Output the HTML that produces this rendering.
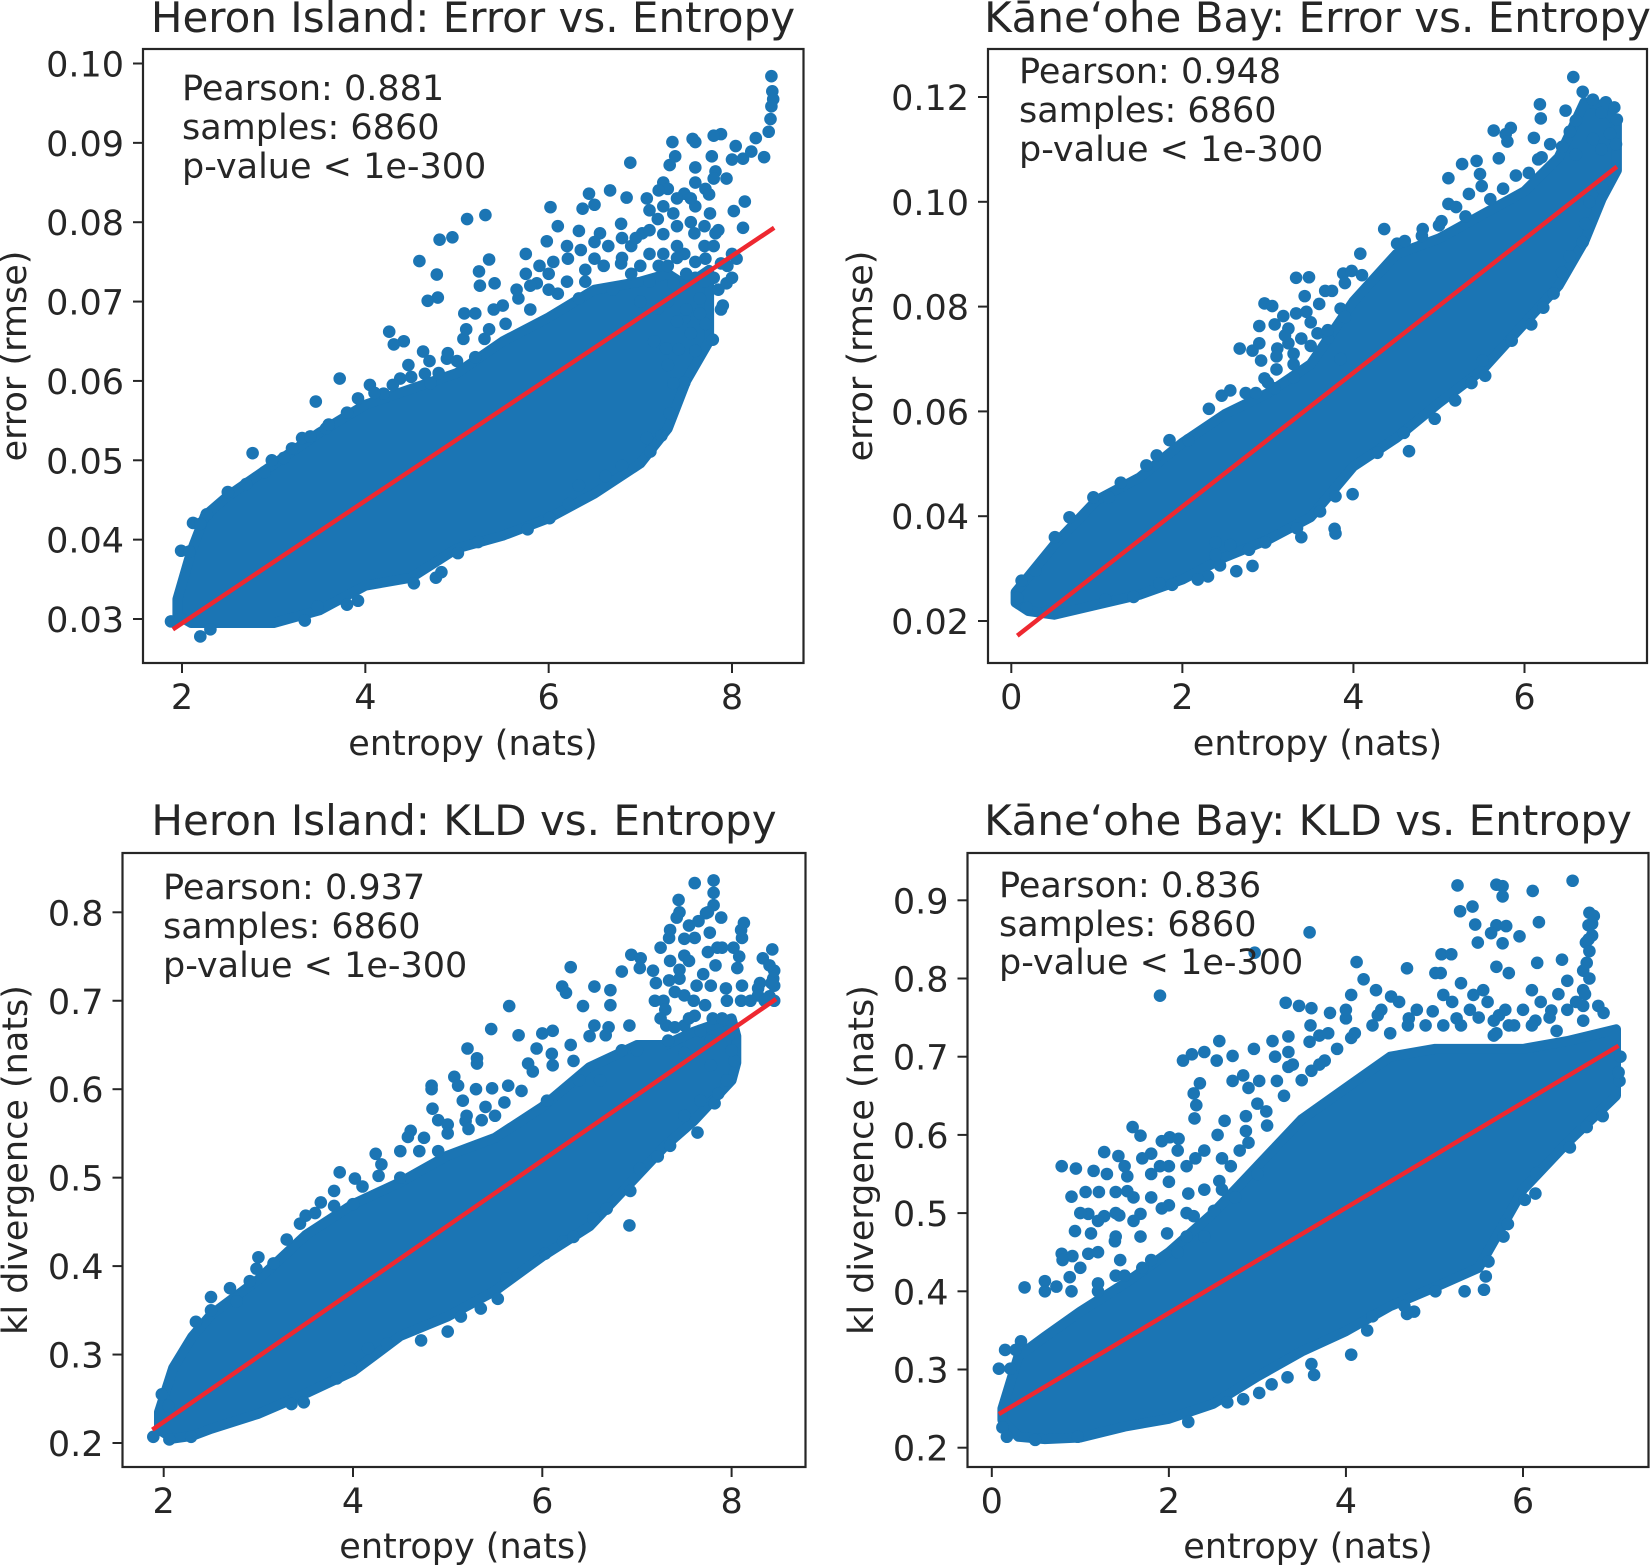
<!DOCTYPE html>
<html lang="en">
<head>
<meta charset="utf-8">
<title>Error and KLD vs. Entropy</title>
<style>
html,body{margin:0;padding:0;background:#fff;}
svg{display:block;}
text{font-family:"DejaVu Sans","Liberation Sans",sans-serif;fill:#262626;}
.lab{font-size:35px;}
.ttl{font-size:42px;}
.frame{fill:none;stroke:#262626;stroke-width:2.2;}
</style>
</head>
<body>
<svg xmlns="http://www.w3.org/2000/svg" width="1651" height="1566" viewBox="0 0 1651 1566">
<rect width="1651" height="1566" fill="#fff"/>

<g>
<g id="marks-he"></g>
<rect class="frame" x="143" y="49" width="660.5" height="614"/>
<g id="ticks-he"></g>
<text class="ttl" x="473" y="32" text-anchor="middle">Heron Island: Error vs. Entropy</text>
<text class="lab" x="473" y="755" text-anchor="middle">entropy (nats)</text>
<text class="lab" transform="translate(26,356) rotate(-90)" text-anchor="middle">error (rmse)</text>
<g>
<text class="lab" x="182" y="100">Pearson: 0.881</text>
<text class="lab" x="182" y="139">samples: 6860</text>
<text class="lab" x="182" y="178">p-value &lt; 1e-300</text>
</g>
</g>

<g>
<g id="marks-ke"></g>
<rect class="frame" x="988" y="49" width="659" height="614"/>
<g id="ticks-ke"></g>
<text class="ttl" x="1317.5" y="32" text-anchor="middle">Kāne‘ohe Bay: Error vs. Entropy</text>
<text class="lab" x="1317.5" y="755" text-anchor="middle">entropy (nats)</text>
<text class="lab" transform="translate(872,356) rotate(-90)" text-anchor="middle">error (rmse)</text>
<g>
<text class="lab" x="1019" y="83">Pearson: 0.948</text>
<text class="lab" x="1019" y="122">samples: 6860</text>
<text class="lab" x="1019" y="161">p-value &lt; 1e-300</text>
</g>
</g>

<g>
<g id="marks-hk"></g>
<rect class="frame" x="122.5" y="853" width="683" height="614"/>
<g id="ticks-hk"></g>
<text class="ttl" x="464" y="835" text-anchor="middle">Heron Island: KLD vs. Entropy</text>
<text class="lab" x="464" y="1558" text-anchor="middle">entropy (nats)</text>
<text class="lab" transform="translate(27,1160) rotate(-90)" text-anchor="middle">kl divergence (nats)</text>
<g>
<text class="lab" x="163" y="899">Pearson: 0.937</text>
<text class="lab" x="163" y="938">samples: 6860</text>
<text class="lab" x="163" y="977">p-value &lt; 1e-300</text>
</g>
</g>

<g>
<g id="marks-kk"></g>
<rect class="frame" x="967.5" y="853" width="681" height="614"/>
<g id="ticks-kk"></g>
<text class="ttl" x="1308" y="835" text-anchor="middle">Kāne‘ohe Bay: KLD vs. Entropy</text>
<text class="lab" x="1308" y="1558" text-anchor="middle">entropy (nats)</text>
<text class="lab" transform="translate(873,1160) rotate(-90)" text-anchor="middle">kl divergence (nats)</text>
<g>
<text class="lab" x="999" y="897">Pearson: 0.836</text>
<text class="lab" x="999" y="936">samples: 6860</text>
<text class="lab" x="999" y="974">p-value &lt; 1e-300</text>
</g>
</g>
</svg>

<script>
// Values are estimated by eye from the picture. The dense middle of each cloud is
// summarised by Core arrays (entropy, upper and lower bound) and drawn as one filled
// shape; the Points arrays hold individually estimated samples, not the full 6860.

// ---- Heron Island: Error vs. Entropy ----
const heronErrorXTicks = ["2","4","6","8"];
const heronErrorYTicks = ["0.03","0.04","0.05","0.06","0.07","0.08","0.09","0.10"];
const heronErrorFitX = [1.90,8.46];
const heronErrorFitY = [0.0287,0.0793];
const heronErrorCoreX = [1.95,2.1,2.25,2.5,3,3.5,4,4.5,5,5.5,6,6.5,7,7.3,7.5,7.75];
const heronErrorCoreUpper = [.0325,.0385,.0430,.0455,.0495,.0535,.0570,.0590,.0610,.0650,.0680,.0715,.0725,.0735,.0720,.0740];
const heronErrorCoreLower = [.0305,.0295,.0295,.0295,.0295,.0311,.0342,.0352,.0389,.0405,.0427,.0458,.0496,.0540,.0600,.0650];
const heronErrorPoints = [[8.43,.0984],[8.44,.0965],[8.45,.0955],[8.43,.0946],[8.42,.0930],[8.40,.0914],[7.88,.0911],[7.80,.0909],[7.57,.0905],[7.60,.0901],[7.35,.0901],[8.04,.0896],[8.26,.0906],[8.35,.0882],[8.12,.0880],[8.00,.0879],[8.21,.0889],[7.32,.0872],[7.38,.0883],[6.89,.0875],[7.60,.0869],[7.78,.0883],[7.82,.0864],[7.94,.0855],[7.25,.0850],[6.85,.0831],[6.67,.0840],[6.44,.0836],[6.02,.0819],[6.37,.0817],[6.50,.0822],[8.14,.0826],[8.02,.0814],[8.12,.0793],[5.31,.0809],[5.11,.0804],[4.95,.0781],[4.81,.0778],[4.59,.0751],[5.35,.0753],[4.78,.0734],[5.24,.0738],[5.25,.0720],[5.41,.0723],[4.79,.0705],[4.68,.0701],[5.08,.0685],[4.26,.0662],[4.42,.0650],[4.31,.0646],[4.63,.0637],[4.47,.0620],[4.65,.0609],[3.72,.0603],[4.05,.0595],[3.46,.0574],[2.77,.0509],[2.98,.0500],[2.27,.0432],[2.12,.0421],[2.20,.0420],[1.99,.0386],[2.08,.0385],[1.88,.0297],[1.98,.0300],[2.20,.0278],[2.31,.0287],[3.34,.0298],[3.48,.0316],[3.92,.0323],[3.80,.0318],[4.53,.0345],[4.77,.0352],[4.83,.0359],[5.01,.0383],[5.23,.0397],[5.77,.0413],[6.01,.0427],[6.22,.0445],[6.33,.0468],[6.62,.0480],[6.80,.0493],[7.11,.0511],[7.23,.0531],[7.32,.0559],[7.48,.0598],[7.60,.0638],[7.79,.0652],[7.88,.0690],[5.75,.0760],[5.98,.0776],[6.10,.0795],[6.33,.0789],[6.56,.0786],[6.79,.0798],[7.02,.0786],[7.19,.0804],[7.07,.0830],[7.30,.0842],[7.48,.0836],[7.71,.0842],[7.76,.0811],[7.36,.0811],[7.59,.0786],[7.82,.0786],[7.48,.0760],[7.71,.0754],[7.25,.0760],[6.79,.0748],[6.50,.0754],[6.21,.0754],[5.87,.0723],[6.10,.0710],[6.33,.0704],[5.67,.0704],[5.53,.0672],[5.30,.0653],[5.07,.0653],[7.36,.0723],[7.65,.0704],[7.48,.0679],[7.71,.0672],[7.28,.0641],[7.94,.0723],[8.05,.0754],[7.88,.0748],[7.19,.0691],[4.89,.0628],[4.71,.0597],[4.38,.0603],[4.20,.0584],[3.92,.0578],[3.57,.0540],[3.31,.0528],[3.11,.0503],[7.36,.0597],[7.07,.0528],[7.00,.0700],[7.15,.0650],[7.30,.0620],[7.42,.0640],[7.55,.0660],[6.00,.0735],[6.40,.0725],[6.70,.0715],[5.80,.0690],[4.80,.0610],[5.00,.0625],[5.20,.0630],[7.10,.0760],[6.90,.0770],[7.60,.0730],[7.80,.0730],[8.00,.0760],[7.60,.0820],[7.40,.0770],[7.70,.0770],[5.75,.0735],[5.9,.0745],[6.05,.0750],[6.2,.0770],[6.35,.0765],[6.5,.0775],[6.65,.0770],[6.8,.0780],[6.95,.0780],[7.1,.0790],[7.25,.0785],[7.4,.0795],[7.55,.0800],[7.7,.0795],[7.85,.0790],[5.8,.0720],[6.0,.0715],[6.2,.0725],[6.4,.0740],[6.6,.0745],[6.8,.0755],[7.0,.0745],[7.2,.0745],[7.4,.0755],[7.6,.0750],[7.8,.0770],[7.95,.0745],[7.1,.0815],[7.25,.0820],[7.4,.0830],[7.55,.0830],[7.75,.0835],[7.2,.0840],[7.6,.0850],[7.8,.0855],[6.9,.0735],[7.1,.0725],[7.3,.0745],[7.5,.0735],[7.7,.0725],[7.85,.0715],[8.0,.0730],[7.9,.0695],[7.5,.0690],[7.65,.0685],[7.4,.0675],[7.3,.0700],[4.9,.0635],[5.1,.0665],[5.2,.0685],[5.35,.0665],[5.5,.0695],[5.65,.0715],[5.4,.0690],[4.5,.0605],[4.7,.0625],[4.3,.0595],[4.1,.0585],[3.8,.0560],[3.6,.0545],[3.4,.0530],[3.2,.0515],[2.9,.0485],[2.7,.0470],[2.5,.0460]];

// ---- Kane'ohe Bay: Error vs. Entropy ----
const kaneoheErrorXTicks = ["0","2","4","6"];
const kaneoheErrorYTicks = ["0.02","0.04","0.06","0.08","0.10","0.12"];
const kaneoheErrorFitX = [0.07,7.08];
const kaneoheErrorFitY = [0.0172,0.1067];
const kaneoheErrorCoreX = [0.05,0.2,0.5,1,1.5,2,2.5,3,3.5,4,4.5,5,5.5,6,6.4,6.7,6.9,7.08];
const kaneoheErrorCoreUpper = [.0255,.0285,.0345,.0431,.0474,.0540,.0595,.0635,.0690,.0810,.0900,.0930,.0975,.1020,.1085,.1190,.1185,.1150];
const kaneoheErrorCoreLower = [.0235,.0219,.0212,.0231,.0250,.0279,.0322,.0355,.0398,.0495,.0549,.0616,.0678,.0768,.0840,.0925,.1005,.1060];
const kaneoheErrorPoints = [[6.57,.1238],[6.18,.1186],[6.19,.1159],[6.68,.1210],[6.48,.1174],[5.64,.1136],[5.84,.1141],[5.78,.1129],[5.80,.1115],[6.11,.1122],[7.08,.1157],[7.07,.1110],[6.53,.1134],[6.44,.1105],[5.27,.1072],[5.44,.1078],[5.70,.1083],[6.16,.1081],[5.11,.1045],[5.48,.1053],[5.11,.0996],[5.31,.0972],[5.03,.0963],[4.36,.0948],[4.81,.0948],[4.51,.0920],[4.08,.0901],[6.76,.1000],[6.91,.1026],[6.71,.0958],[6.68,.0923],[6.53,.0896],[6.44,.0865],[6.34,.0825],[6.22,.0798],[6.08,.0766],[5.85,.0735],[5.51,.0697],[5.54,.0668],[5.38,.0654],[5.19,.0621],[4.95,.0586],[4.65,.0524],[4.59,.0559],[4.28,.0521],[3.99,.0442],[3.79,.0438],[3.78,.0376],[3.79,.0367],[3.39,.0360],[3.34,.0377],[3.61,.0409],[2.97,.0350],[2.82,.0305],[2.63,.0295],[2.44,.0306],[2.30,.0285],[2.18,.0279],[1.88,.0269],[1.73,.0272],[1.43,.0246],[1.10,.0241],[2.39,.0350],[2.39,.0326],[2.78,.0336],[2.56,.0345],[0.07,.0244],[0.12,.0277],[0.28,.0296],[0.18,.0225],[0.42,.0217],[3.33,.0855],[3.48,.0856],[2.96,.0806],[3.05,.0801],[2.90,.0763],[3.08,.0766],[3.18,.0782],[3.33,.0787],[3.24,.0758],[3.43,.0820],[2.67,.0720],[2.82,.0716],[2.90,.0730],[2.92,.0697],[3.11,.0720],[3.24,.0730],[3.39,.0739],[3.58,.0749],[2.96,.0663],[3.08,.0644],[2.31,.0605],[2.46,.0630],[2.56,.0640],[2.74,.0635],[2.86,.0635],[1.70,.0516],[1.85,.0545],[2.07,.0545],[1.28,.0464],[1.58,.0497],[0.96,.0436],[1.14,.0436],[0.51,.0360],[0.68,.0398],[3.67,.0830],[3.88,.0863],[3.85,.0796],[3.98,.0868],[3.50,.0770],[3.70,.0740],[3.85,.0700],[3.30,.0690],[3.10,.0680],[6.90,.1170],[7.00,.1130],[6.80,.1120],[6.60,.1090],[6.90,.1100],[3.1,.0705],[3.3,.0710],[3.5,.0725],[3.7,.0755],[3.2,.0745],[3.45,.0790],[3.6,.0805],[3.75,.0830],[3.9,.0845],[4.1,.0860],[3.9,.0780],[3.3,.0665],[3.0,.0655],[5.2,.0990],[5.35,.1015],[5.5,.1030],[5.6,.1005],[5.75,.1025],[5.9,.1050],[6.05,.1055],[6.2,.1085],[6.3,.1110],[6.6,.1155],[6.8,.1195],[6.95,.1190],[7.05,.1180],[4.6,.0925],[4.8,.0935],[5.0,.0955]];

// ---- Heron Island: KLD vs. Entropy ----
const heronKldXTicks = ["2","4","6","8"];
const heronKldYTicks = ["0.2","0.3","0.4","0.5","0.6","0.7","0.8"];
const heronKldFitX = [1.88,8.47];
const heronKldFitY = [0.215,0.702];
const heronKldCoreX = [1.95,2.1,2.3,2.5,3,3.5,4,4.5,5,5.5,6,6.5,7,7.3,7.6,8,8.05];
const heronKldCoreUpper = [.235,.285,.320,.345,.385,.435,.470,.495,.525,.545,.580,.625,.650,.650,.665,.680,.660];
const heronKldCoreLower = [.215,.205,.208,.216,.233,.256,.281,.321,.343,.372,.411,.445,.502,.536,.564,.610,.630];
const heronKldPoints = [[7.81,.836],[7.61,.833],[7.81,.822],[7.44,.814],[7.81,.808],[7.73,.799],[7.89,.794],[8.13,.788],[8.11,.771],[7.42,.794],[7.55,.785],[7.77,.777],[7.34,.771],[7.61,.771],[8.02,.760],[8.43,.758],[8.33,.748],[8.45,.734],[7.25,.760],[7.50,.751],[6.94,.752],[7.04,.748],[7.03,.737],[6.30,.738],[6.84,.733],[6.21,.716],[6.25,.709],[6.55,.716],[6.72,.712],[6.72,.695],[6.43,.694],[5.65,.694],[5.46,.668],[5.75,.661],[6.55,.672],[6.92,.672],[6.11,.666],[6.00,.663],[5.94,.646],[5.85,.629],[5.21,.646],[5.31,.635],[5.31,.629],[5.07,.614],[5.11,.604],[4.83,.604],[4.83,.600],[5.30,.600],[5.47,.601],[5.64,.604],[5.16,.587],[5.36,.565],[5.19,.564],[5.22,.555],[4.84,.578],[4.90,.565],[5.00,.560],[4.61,.553],[4.58,.546],[4.75,.545],[4.24,.527],[4.50,.530],[3.86,.506],[4.02,.499],[4.27,.502],[3.66,.472],[3.80,.468],[3.44,.448],[3.50,.457],[2.98,.397],[3.16,.403],[2.91,.383],[2.77,.360],[2.50,.350],[2.34,.337],[1.98,.255],[2.05,.242],[1.89,.207],[2.06,.204],[2.29,.207],[3.48,.246],[3.35,.244],[3.97,.284],[3.83,.273],[4.36,.312],[4.16,.307],[4.72,.316],[5.00,.326],[5.14,.343],[5.35,.352],[5.53,.363],[5.62,.386],[6.03,.414],[6.22,.428],[6.33,.433],[6.54,.454],[6.68,.465],[6.92,.446],[6.93,.485],[7.03,.510],[7.22,.524],[7.35,.536],[7.64,.551],[7.50,.570],[7.67,.587],[7.82,.584],[7.86,.595],[7.95,.610],[8.03,.632],[7.31,.672],[7.33,.655],[7.50,.672],[7.61,.683],[7.28,.700],[7.19,.700],[7.50,.706],[7.72,.695],[7.78,.717],[7.94,.714],[8.11,.717],[8.28,.714],[8.45,.717],[8.28,.706],[7.83,.740],[7.17,.734],[7.34,.723],[7.63,.717],[8.06,.737],[7.67,.666],[7.78,.655],[7.97,.661],[8.00,.644],[7.78,.627],[7.50,.641],[6.67,.661],[6.84,.644],[6.33,.632],[6.11,.627],[6.39,.610],[6.61,.610],[5.78,.598],[6.05,.587],[7.00,.644],[8.44,.725],[8.40,.705],[7.35,.745],[7.45,.725],[4.00,.470],[4.50,.500],[4.90,.530],[5.50,.570],[7.3,.690],[7.4,.710],[7.45,.735],[7.55,.745],[7.6,.700],[7.7,.730],[7.75,.755],[7.85,.760],[7.65,.790],[7.75,.800],[7.9,.760],[7.95,.700],[8.1,.700],[8.2,.700],[8.3,.720],[8.4,.740],[8.42,.720],[8.45,.700],[8.35,.700],[8.1,.780],[8.08,.750],[7.35,.780],[7.45,.800],[7.5,.770],[7.2,.720],[7.25,.680],[7.4,.670],[7.55,.680],[7.8,.680],[7.9,.680],[6.5,.660],[6.7,.670],[6.3,.650],[6.1,.640],[5.9,.620],[5.6,.585],[5.4,.580],[5.2,.570],[5.0,.550],[4.7,.530],[4.3,.515],[4.1,.490],[3.8,.485],[3.6,.460],[3.3,.430],[3.0,.410],[2.7,.375],[2.5,.365]];

// ---- Kane'ohe Bay: KLD vs. Entropy ----
const kaneoheKldXTicks = ["0","2","4","6"];
const kaneoheKldYTicks = ["0.2","0.3","0.4","0.5","0.6","0.7","0.8","0.9"];
const kaneoheKldFitX = [0.08,7.08];
const kaneoheKldFitY = [0.243,0.714];
const kaneoheKldCoreX = [0.12,0.3,0.6,1,1.5,2,2.5,3,3.5,4,4.5,5,5.5,5.8,6,6.5,7.05];
const kaneoheKldCoreUpper = [.250,.317,.342,.374,.410,.450,.500,.560,.620,.660,.700,.710,.710,.710,.710,.720,.735];
const kaneoheKldCoreLower = [.235,.214,.211,.213,.227,.237,.256,.291,.323,.349,.381,.405,.430,.490,.530,.590,.650];
const kaneoheKldPoints = [[6.56,.925],[5.26,.919],[5.70,.920],[5.77,.918],[5.77,.905],[6.11,.912],[5.29,.886],[5.43,.892],[6.18,.872],[5.46,.869],[5.70,.868],[5.81,.867],[5.64,.858],[3.59,.859],[5.96,.854],[5.49,.846],[5.77,.845],[6.75,.884],[6.74,.868],[6.71,.846],[2.97,.833],[5.08,.831],[5.19,.831],[4.12,.821],[4.69,.813],[6.44,.824],[6.16,.820],[5.70,.815],[5.84,.807],[5.07,.807],[5.01,.807],[4.20,.799],[5.30,.794],[6.50,.797],[4.34,.785],[4.51,.777],[1.90,.778],[5.10,.779],[4.06,.779],[5.44,.779],[5.55,.785],[6.10,.785],[3.32,.769],[3.47,.765],[3.61,.762],[3.82,.756],[4.00,.749],[4.36,.753],[4.71,.749],[4.98,.758],[5.25,.749],[5.73,.753],[6.32,.759],[6.85,.765],[6.91,.756],[3.59,.719],[2.57,.720],[3.17,.720],[3.35,.726],[3.70,.727],[4.06,.724],[2.16,.695],[2.26,.703],[2.40,.706],[2.54,.695],[2.72,.701],[2.96,.710],[3.35,.706],[3.35,.687],[2.72,.669],[2.35,.666],[2.28,.653],[2.31,.638],[2.29,.621],[2.84,.676],[3.02,.669],[3.22,.669],[3.61,.682],[3.76,.695],[1.59,.610],[1.68,.599],[1.92,.592],[2.01,.597],[2.11,.595],[0.79,.560],[0.95,.557],[1.27,.578],[1.43,.573],[1.15,.554],[1.53,.547],[1.80,.576],[0.90,.521],[1.06,.527],[1.21,.527],[1.40,.527],[1.53,.528],[1.09,.499],[1.27,.496],[1.44,.497],[1.68,.499],[1.92,.506],[2.22,.525],[0.94,.477],[1.12,.474],[0.79,.448],[0.91,.445],[1.09,.448],[1.39,.464],[1.68,.470],[1.98,.474],[2.28,.496],[2.57,.541],[2.51,.503],[2.87,.605],[2.63,.618],[2.87,.624],[3.11,.612],[0.37,.405],[0.60,.413],[0.88,.418],[0.73,.406],[0.08,.301],[0.15,.325],[0.33,.336],[0.27,.325],[0.21,.301],[0.12,.226],[0.17,.214],[0.49,.210],[0.97,.214],[2.22,.233],[2.66,.258],[2.84,.262],[3.02,.270],[3.16,.281],[3.34,.290],[3.64,.293],[3.61,.307],[4.06,.319],[4.24,.350],[4.30,.368],[4.69,.371],[4.77,.374],[5.01,.400],[5.34,.400],[5.56,.402],[5.58,.419],[5.61,.438],[5.78,.470],[5.83,.486],[6.14,.525],[6.02,.517],[6.15,.551],[6.53,.584],[6.72,.610],[6.90,.624],[7.09,.669],[4.66,.381],[6.68,.785],[6.68,.765],[6.68,.746],[6.68,.810],[5.67,.746],[5.67,.727],[5.84,.740],[6.14,.746],[6.38,.733],[7.10,.700],[7.08,.680],[6.75,.835],[6.78,.855],[1.40,.420],[1.70,.430],[2.00,.560],[2.30,.570],[2.55,.600],[2.70,.560],[3.00,.550],[1.20,.400],[1.45,.440],[2.10,.450],[2.40,.470],[2.75,.520],[0.8,.440],[1.0,.430],[1.2,.450],[1.4,.470],[1.6,.490],[1.8,.520],[2.0,.540],[2.2,.560],[2.4,.580],[1.0,.500],[1.2,.490],[1.4,.500],[1.6,.520],[1.8,.550],[2.0,.510],[2.2,.500],[2.4,.530],[2.6,.570],[2.8,.580],[1.3,.550],[1.5,.560],[1.7,.570],[1.9,.560],[2.1,.580],[0.6,.400],[0.9,.400],[1.2,.410],[1.5,.420],[1.8,.440],[2.2,.470],[2.6,.530],[2.9,.590],[3.1,.630],[3.3,.650],[3.5,.670],[3.7,.690],[3.9,.710],[4.1,.730],[4.3,.740],[4.5,.730],[4.7,.740],[4.9,.740],[5.1,.740],[5.3,.740],[5.5,.750],[5.7,.730],[5.9,.740],[6.1,.740],[6.3,.750],[6.5,.760],[6.7,.780],[6.75,.800],[6.72,.820],[6.78,.870],[6.8,.880],[6.74,.850],[2.9,.660],[3.0,.640],[3.2,.700],[3.4,.690],[3.6,.740],[3.8,.730],[4.0,.760],[4.4,.760],[4.6,.770],[4.8,.760],[5.2,.770],[5.4,.760],[5.6,.770],[5.8,.760],[6.0,.760],[6.2,.770],[6.4,.780],[6.6,.770]];

const SVG_NS = 'http://www.w3.org/2000/svg';
const INK = '#262626';
const BLUE = '#1b75b4';
const RED = '#ee2830';

// Axis functions: each maps a data value to a pixel via two calibrated ticks.
function linearAxis(d0, p0, d1, p1) {
  return function (v) { return p0 + (v - d0) * (p1 - p0) / (d1 - d0); };
}

function drawPanel(key, sx, sy, frame, xTicks, yTicks, coreX, coreUp, coreLo, points, fitX, fitY) {
  const marks = document.getElementById('marks-' + key);
  const ticks = document.getElementById('ticks-' + key);

  let d = '';
  coreX.forEach(function (x, i) { d += (i ? 'L' : 'M') + sx(x).toFixed(1) + ' ' + sy(coreUp[i]).toFixed(1); });
  for (let i = coreX.length - 1; i >= 0; i--) { d += 'L' + sx(coreX[i]).toFixed(1) + ' ' + sy(coreLo[i]).toFixed(1); }
  const core = document.createElementNS(SVG_NS, 'path');
  
  
  core.setAttribute('d', d + 'Z');
  core.setAttribute('fill', BLUE);
  core.setAttribute('stroke', BLUE);
  core.setAttribute('stroke-width', '10');
  core.setAttribute('stroke-linejoin', 'round');
  marks.appendChild(core);

  points.forEach(function (p) {
    const c = document.createElementNS(SVG_NS, 'circle');
    
    
    c.setAttribute('cx', sx(p[0]).toFixed(1));
    c.setAttribute('cy', sy(p[1]).toFixed(2));
    c.setAttribute('r', '6.3');
    c.setAttribute('fill', BLUE);
    marks.appendChild(c);
  });

  const fit = document.createElementNS(SVG_NS, 'line');
  
  
  fit.setAttribute('x1', sx(fitX[0]));
  fit.setAttribute('y1', sy(fitY[0]));
  fit.setAttribute('x2', sx(fitX[1]));
  fit.setAttribute('y2', sy(fitY[1]));
  fit.setAttribute('stroke', RED);
  fit.setAttribute('stroke-width', '4.5');
  marks.appendChild(fit);

  xTicks.forEach(function (label) {
    const x = sx(parseFloat(label));
    const mark = document.createElementNS(SVG_NS, 'line');
    
    
    mark.setAttribute('x1', x);
    mark.setAttribute('x2', x);
    mark.setAttribute('y1', frame.bottom);
    mark.setAttribute('y2', frame.bottom + 10);
    mark.setAttribute('stroke', INK);
    mark.setAttribute('stroke-width', '2');
    ticks.appendChild(mark);
    const t = document.createElementNS(SVG_NS, 'text');
    
    
    t.setAttribute('class', 'lab');
    t.setAttribute('x', x);
    t.setAttribute('y', frame.bottom + 46);
    t.setAttribute('text-anchor', 'middle');
    t.textContent = label;
    ticks.appendChild(t);
  });

  yTicks.forEach(function (label) {
    const y = sy(parseFloat(label));
    const mark = document.createElementNS(SVG_NS, 'line');
    
    
    mark.setAttribute('x1', frame.left - 10);
    mark.setAttribute('x2', frame.left);
    mark.setAttribute('y1', y);
    mark.setAttribute('y2', y);
    mark.setAttribute('stroke', INK);
    mark.setAttribute('stroke-width', '2');
    ticks.appendChild(mark);
    const t = document.createElementNS(SVG_NS, 'text');
    
    
    t.setAttribute('class', 'lab');
    t.setAttribute('x', frame.left - 19);
    t.setAttribute('y', y + 13);
    t.setAttribute('text-anchor', 'end');
    t.textContent = label;
    ticks.appendChild(t);
  });
}

drawPanel('he', linearAxis(2, 182, 8, 732), linearAxis(0.03, 619, 0.10, 63.5), {left: 143, bottom: 663},
  heronErrorXTicks, heronErrorYTicks, heronErrorCoreX, heronErrorCoreUpper, heronErrorCoreLower, heronErrorPoints, heronErrorFitX, heronErrorFitY);
drawPanel('ke', linearAxis(0, 1011.3, 6, 1524.5), linearAxis(0.02, 621, 0.12, 97), {left: 988, bottom: 663},
  kaneoheErrorXTicks, kaneoheErrorYTicks, kaneoheErrorCoreX, kaneoheErrorCoreUpper, kaneoheErrorCoreLower, kaneoheErrorPoints, kaneoheErrorFitX, kaneoheErrorFitY);
drawPanel('hk', linearAxis(2, 163.7, 8, 731.6), linearAxis(0.2, 1443, 0.8, 912.3), {left: 122.5, bottom: 1467},
  heronKldXTicks, heronKldYTicks, heronKldCoreX, heronKldCoreUpper, heronKldCoreLower, heronKldPoints, heronKldFitX, heronKldFitY);
drawPanel('kk', linearAxis(0, 991.8, 6, 1523), linearAxis(0.2, 1447.7, 0.9, 900.3), {left: 967.5, bottom: 1467},
  kaneoheKldXTicks, kaneoheKldYTicks, kaneoheKldCoreX, kaneoheKldCoreUpper, kaneoheKldCoreLower, kaneoheKldPoints, kaneoheKldFitX, kaneoheKldFitY);
</script>
</body>
</html>
